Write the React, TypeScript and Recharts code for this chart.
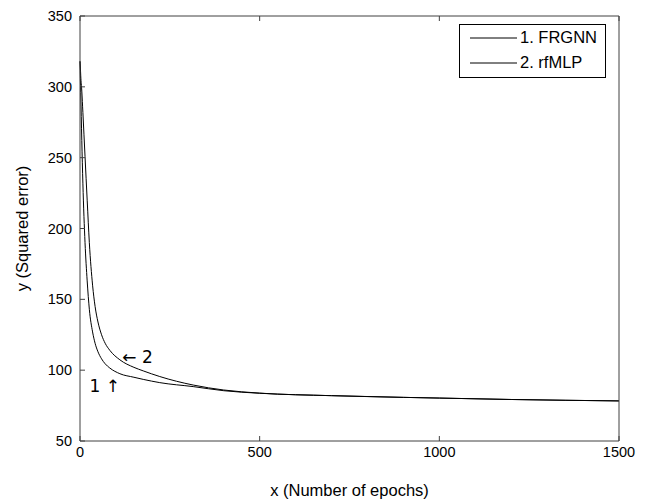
import React from "react";
import { LineChart, Line, XAxis, YAxis, Legend, ReferenceDot } from "recharts";

const epochs = [0, 1, 2, 5, 8, 14, 20, 26, 35, 42, 50, 60, 70, 83, 111, 150, 176, 222, 315, 400, 500, 700, 900, 1000, 1200, 1500];
const frgnn = [318, 306, 296, 262, 232, 190, 163, 143, 127, 119, 113, 108, 104.5, 101.5, 97.5, 95, 93.5, 91.2, 88.4, 85.5, 83.7, 82, 80.8, 80.3, 79.3, 78.3];
const rfmlp = [318, 314, 308, 297, 282, 251, 220, 190, 160, 145, 134, 125, 119, 114, 107.3, 102, 99.5, 95.5, 89.5, 86, 83.8, 82, 80.8, 80.3, 79.3, 78.3];

const xTicks = [0, 500, 1000, 1500];
const yTicks = [50, 100, 150, 200, 250, 300, 350];
const seriesNames = ["1. FRGNN", "2. rfMLP"];

const data = epochs.map((x, i) => ({ x, frgnn: frgnn[i], rfmlp: rfmlp[i] }));

const FONT = "'Liberation Sans', Arial, sans-serif";
const AXIS = "#404040";

function BoxLegend() {
  return (
    <div style={{ border: "1px solid #000", background: "#fff", width: 147, height: 54, boxSizing: "border-box", fontFamily: FONT, fontSize: 16.5, color: "#000" }}>
      {seriesNames.map((name) => (
        <div key={name} style={{ display: "flex", alignItems: "center", height: 25 }}>
          <svg width={58} height={20} style={{ flex: "none" }}>
            <line x1={10} x2={57} y1={10} y2={10} stroke="#000" strokeWidth={1} />
          </svg>
          <span style={{ marginLeft: 2 }}>{name}</span>
        </div>
      ))}
    </div>
  );
}

export default function App() {
  const tickStyle = { fill: "#000", fontSize: 14.5, fontFamily: FONT };
  const noteStyle = { fill: "#000", fontSize: 17, fontFamily: "'DejaVu Sans', sans-serif" };
  return (
    <div style={{ position: "absolute", left: 0, top: 0, background: "#fff" }}>
      <LineChart width={646} height={500} data={data} margin={{ top: 15, right: 26, bottom: 0, left: 0 }}>
        <XAxis
          dataKey="x"
          type="number"
          domain={[0, 1500]}
          ticks={xTicks}
          height={59}
          tickSize={-5}
          tickMargin={11}
          stroke={AXIS}
          tick={tickStyle}
          label={{ value: "x (Number of epochs)", position: "insideBottom", offset: 4, style: { fill: "#000", fontSize: 16.5, fontFamily: FONT } }}
        />
        <XAxis
          xAxisId="top"
          orientation="top"
          dataKey="x"
          type="number"
          domain={[0, 1500]}
          ticks={xTicks}
          height={1}
          tickSize={-5}
          tickFormatter={() => ""}
          stroke={AXIS}
        />
        <YAxis
          type="number"
          domain={[50, 350]}
          ticks={yTicks}
          width={80}
          tickSize={-5}
          tickMargin={13}
          stroke={AXIS}
          tick={tickStyle}
          label={{ value: "y (Squared error)", angle: -90, position: "insideLeft", offset: 22, style: { textAnchor: "middle", fill: "#000", fontSize: 16.5, fontFamily: FONT } }}
        />
        <YAxis
          yAxisId="right"
          orientation="right"
          type="number"
          domain={[50, 350]}
          ticks={yTicks}
          width={1}
          tickSize={-5}
          tickFormatter={() => ""}
          stroke={AXIS}
        />
        <Legend
          layout="horizontal"
          verticalAlign="middle"
          align="center"
          wrapperStyle={{ top: 24, left: 459, width: 147 }}
          content={() => <BoxLegend />}
        />
        <Line type="monotone" dataKey="frgnn" name={seriesNames[0]} stroke="#000" strokeWidth={1} dot={false} isAnimationActive={false} />
        <Line type="monotone" dataKey="rfmlp" name={seriesNames[1]} stroke="#000" strokeWidth={1} dot={false} isAnimationActive={false} />
        <ReferenceDot x={160} y={109.4} r={1} fill="none" stroke="none" label={{ value: "← 2", position: "center", style: noteStyle }} />
        <ReferenceDot x={69} y={88.9} r={1} fill="none" stroke="none" label={{ value: "1 ↑", position: "center", style: noteStyle }} />
      </LineChart>
    </div>
  );
}
